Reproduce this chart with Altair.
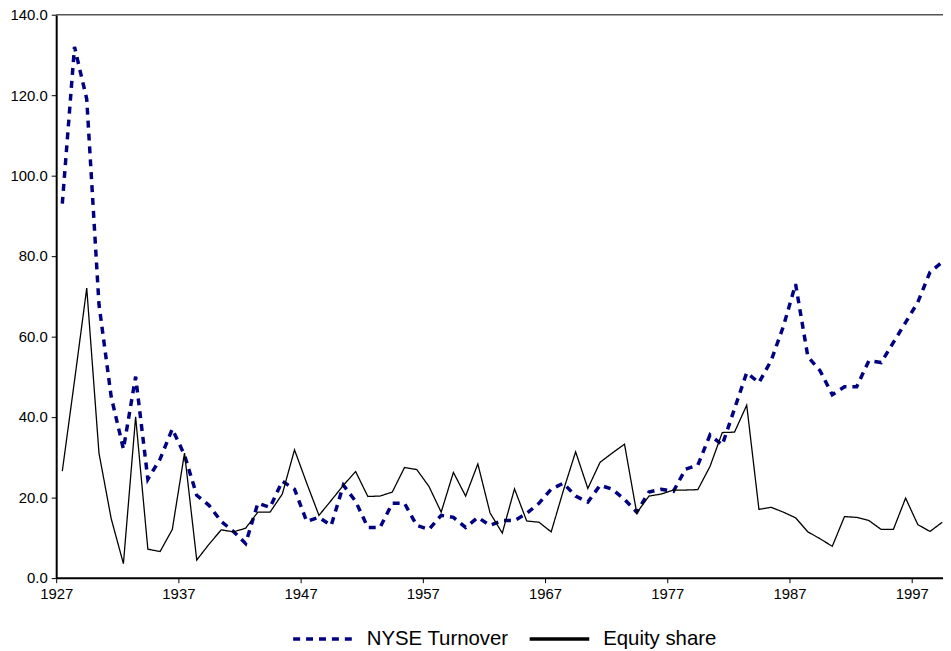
import altair as alt
import pandas as pd

years = list(range(1927, 2000))

turnover = [93, 132, 119, 68, 45, 32, 50, 24.5, 29.5, 37,
            30.5, 20.5, 18, 14, 11.5, 8.5, 18.5, 17.5, 24, 22,
            14, 15, 13, 23, 19, 12.5, 12.5, 18.5, 18.5, 13,
            12, 15.5, 15, 12.5, 15, 13, 14.2, 14.2, 16, 18.5,
            22, 23.5, 20.3, 18.8, 23, 22, 19.5, 16.3, 21.3, 22,
            21.5, 27, 28, 35.5, 33, 42, 51, 48.5, 54, 62.5,
            73, 55, 51.5, 45.5, 47.5, 47.5, 54, 53.5, 58.5, 63.5,
            68.5, 76, 78.5]

equity = [26.5, 49, 72, 31, 14.7, 3.5, 40, 7.1, 6.5, 12,
          31, 4.4, 8.3, 11.9, 11.4, 12.3, 16.3, 16.3, 20.8, 31.8,
          23.5, 15.5, 19.2, 23, 26.4, 20.2, 20.3, 21.3, 27.4, 26.9,
          22.7, 16.3, 26.2, 20.3, 28.3, 16.1, 11.1, 22.1, 14.1, 13.8,
          11.4, 21.7, 31.3, 22.2, 28.7, 31, 33.2, 16.1, 20.3, 20.8,
          21.8, 21.8, 21.9, 27.7, 36.1, 36.2, 42.9, 17, 17.5, 16.3,
          14.9, 11.4, 9.7, 7.8, 15.2, 15, 14.2, 12, 12, 19.8,
          13.2, 11.5, 13.8]

series_names = ["NYSE Turnover", "Equity share"]
x_ticks = [1927, 1937, 1947, 1957, 1967, 1977, 1987, 1997]
y_ticks = [0, 20, 40, 60, 80, 100, 120, 140]

df = pd.concat([
    pd.DataFrame({"year": years, "value": turnover, "series": series_names[0]}),
    pd.DataFrame({"year": years, "value": equity, "series": series_names[1]}),
], ignore_index=True)

FONT = "Liberation Sans, Arial, sans-serif"

x_scale = alt.Scale(domain=[1927, 1999.56], nice=False, zero=False)
y_scale = alt.Scale(domain=[0, 140], nice=False)

legend_opts = dict(title=None, orient="none", direction="horizontal",
                   legendX=236.5, legendY=596,
                   symbolType="stroke", symbolSize=3600,
                   symbolStrokeWidth=3.5, labelFontSize=20.5,
                   labelFont=FONT, labelColor="black",
                   labelOffset=12, columnPadding=14, padding=0)

base = alt.Chart(df).transform_calculate(
    xpos="datum.year + 0.5"
).encode(
    x=alt.X("xpos:Q", scale=x_scale, title=None,
            axis=alt.Axis(values=x_ticks, format="d", grid=False,
                          labelFontSize=15, labelFont=FONT, labelColor="black",
                          domainColor="black", domainWidth=2, tickColor="black",
                          tickSize=5, tickWidth=1, labelPadding=4, labelFlush=False)),
    y=alt.Y("value:Q", scale=y_scale, title=None,
            axis=alt.Axis(values=y_ticks, format=".1f", grid=False,
                          labelFontSize=15, labelFont=FONT, labelColor="black",
                          domainColor="black", domainWidth=2, tickColor="black",
                          tickSize=5, tickWidth=1, labelPadding=4)),
    color=alt.Color("series:N",
                    scale=alt.Scale(domain=series_names, range=["#000080", "#000000"]),
                    legend=alt.Legend(**legend_opts)),
    strokeDash=alt.StrokeDash("series:N",
                              scale=alt.Scale(domain=series_names, range=[[7, 6], [1, 0]]),
                              legend=alt.Legend(**legend_opts)),
)

turnover_line = base.transform_filter(
    alt.datum.series == series_names[0]
).mark_line(clip=True, strokeWidth=3.5)

equity_line = base.transform_filter(
    alt.datum.series == series_names[1]
).mark_line(clip=True, strokeWidth=1.3)

top_line = alt.Chart(alt.Data(values=[{}])).mark_rule(color="#555555", strokeWidth=1.5).encode(
    y=alt.datum(140, scale=y_scale)
)

chart = alt.layer(turnover_line, equity_line, top_line).properties(
    width=892.5,
    height=566.6,
    autosize=alt.AutoSizeParams(type="none"),
    padding={"left": 48.5, "top": 4.7, "right": 0, "bottom": 71.7},
    background="white",
).configure_view(stroke=None)

chart.save("out.html", embed_options={"renderer": "svg", "actions": False})
